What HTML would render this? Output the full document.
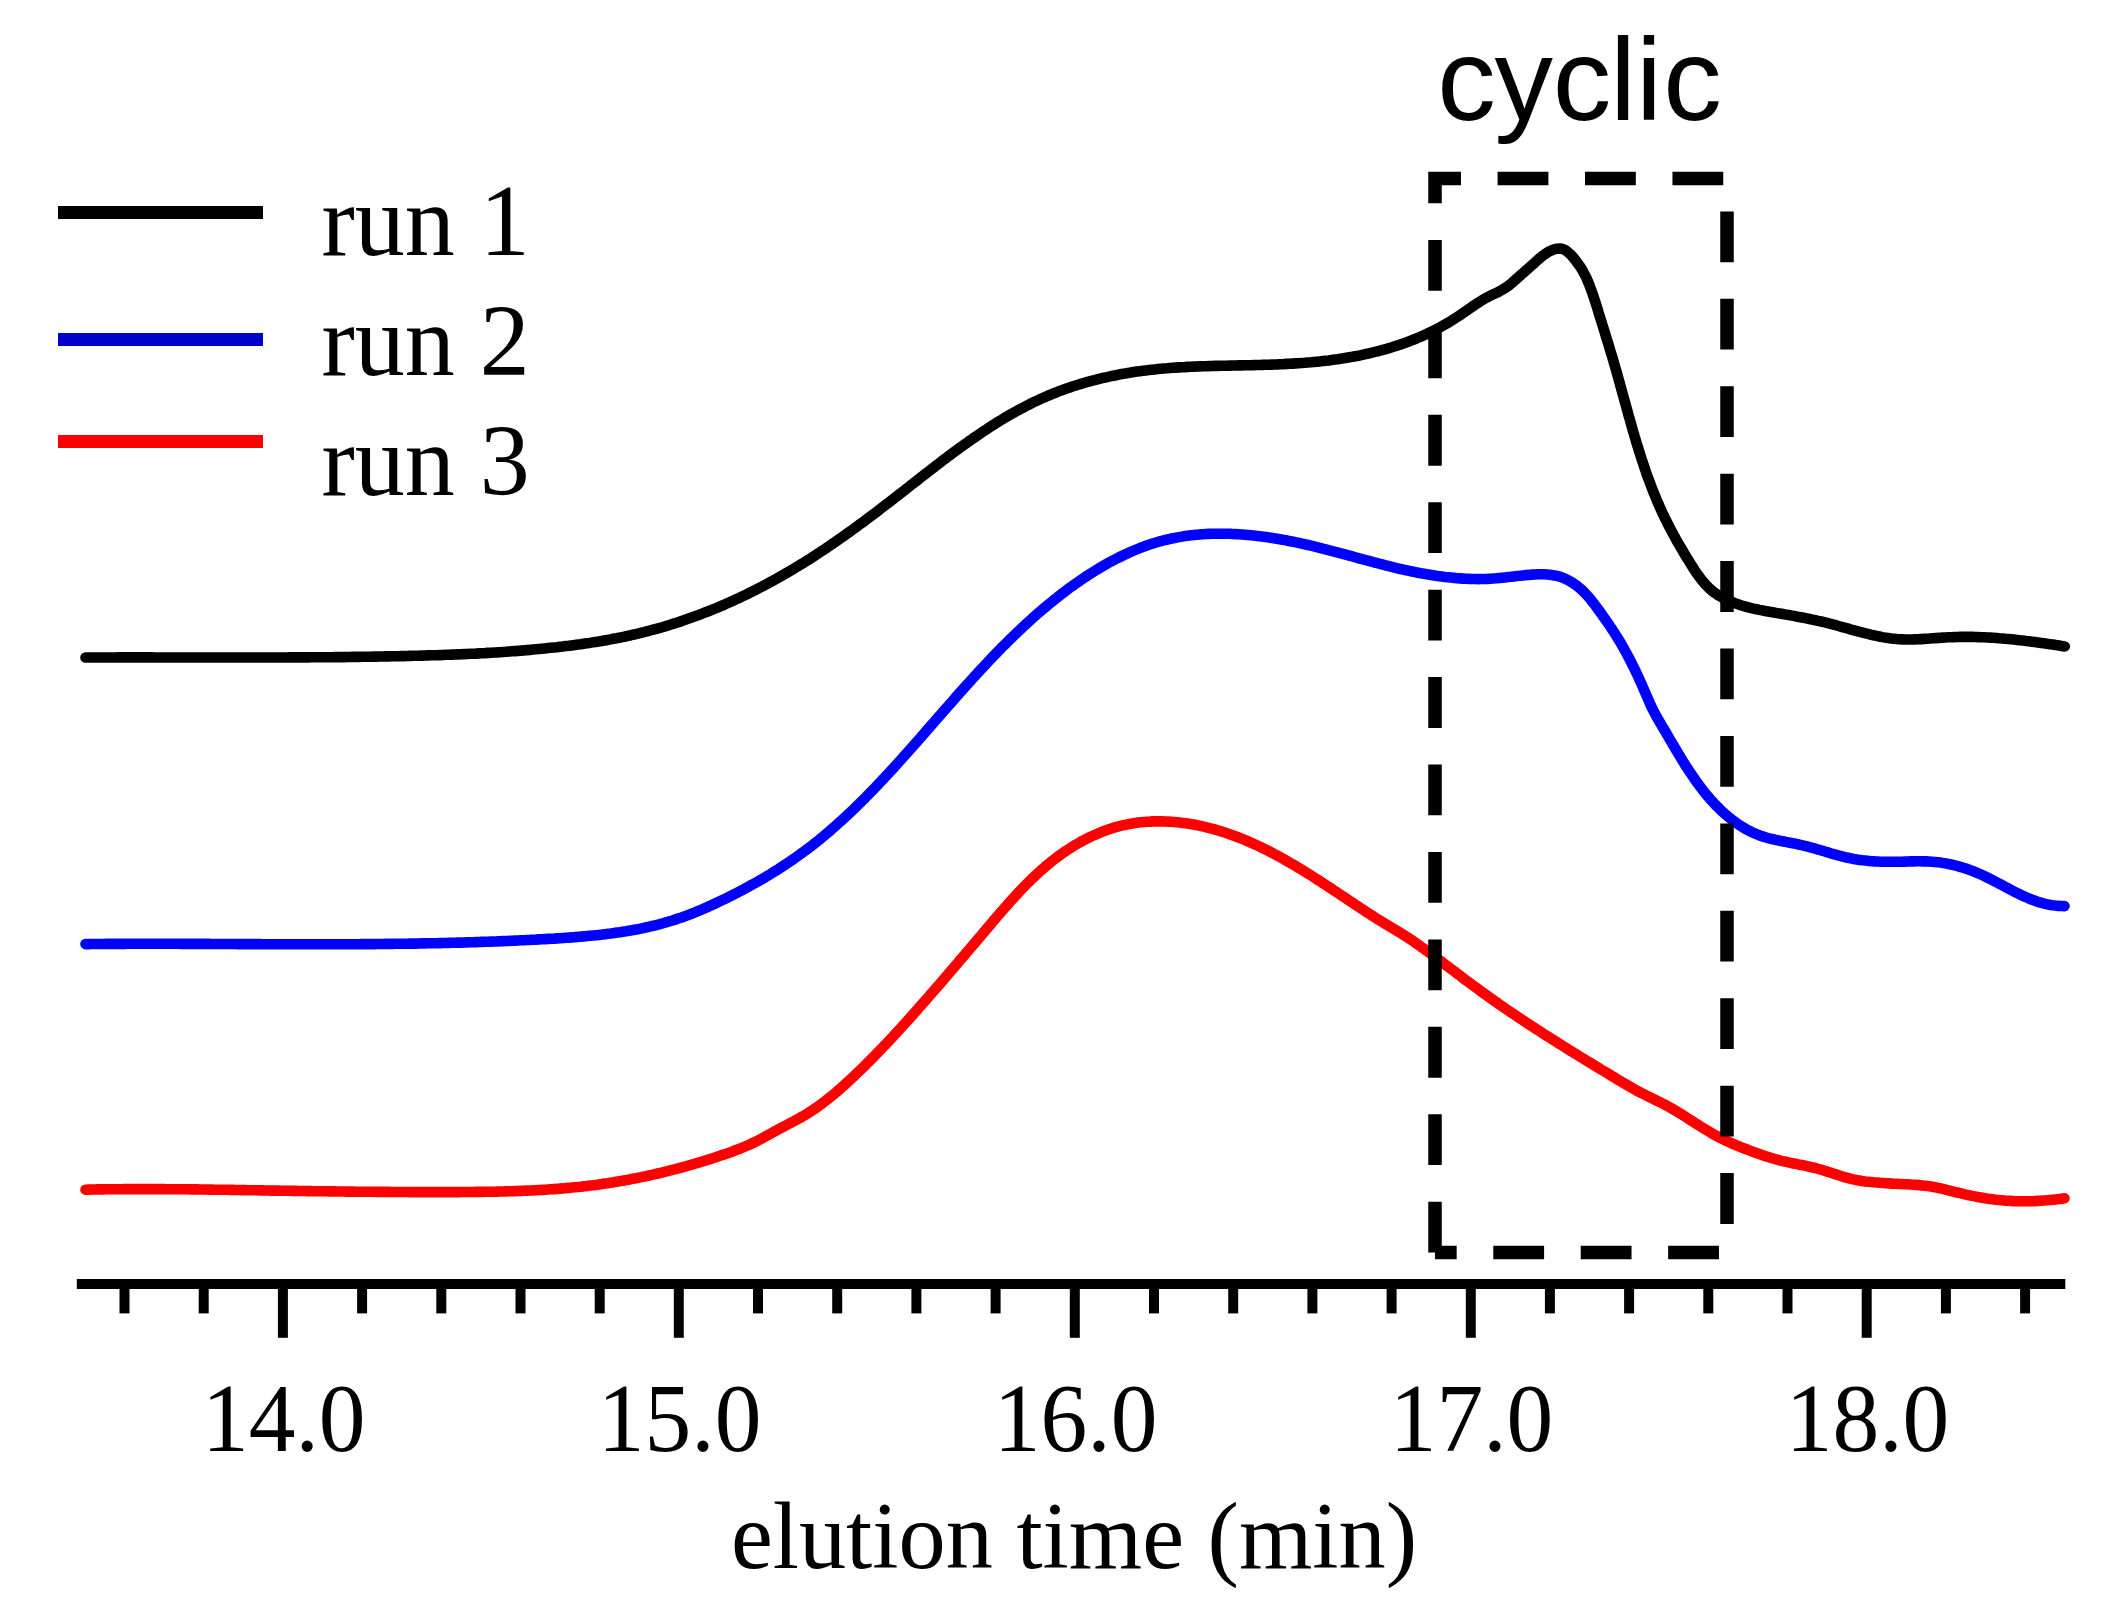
<!DOCTYPE html>
<html><head><meta charset="utf-8"><title>elution</title>
<style>
html,body{margin:0;padding:0;background:#fff;}
body{width:2113px;height:1619px;overflow:hidden;}
svg{display:block;}
.serif{font-family:"Liberation Serif","Times New Roman",serif;}
.sans{font-family:"Liberation Sans",Arial,sans-serif;}
</style></head><body>
<svg width="2113" height="1619" viewBox="0 0 2113 1619">
<rect width="2113" height="1619" fill="#fff"/>
<g fill="none" stroke-width="10.6" stroke-linecap="round" stroke-linejoin="round">
<path stroke="#ff0000" d="M85.5,1189.7 L88.5,1189.6 L91.5,1189.5 L94.5,1189.5 L97.5,1189.4 L100.5,1189.4 L103.5,1189.4 L106.5,1189.3 L109.5,1189.3 L112.5,1189.2 L115.5,1189.2 L118.5,1189.2 L121.5,1189.2 L124.5,1189.1 L127.6,1189.1 L130.6,1189.1 L133.6,1189.1 L136.6,1189.1 L139.6,1189.1 L142.6,1189.1 L145.6,1189.1 L148.6,1189.1 L151.6,1189.1 L154.6,1189.1 L157.6,1189.1 L160.6,1189.1 L163.6,1189.1 L166.6,1189.2 L169.6,1189.2 L172.6,1189.2 L175.6,1189.2 L178.6,1189.2 L181.6,1189.3 L184.6,1189.3 L187.6,1189.3 L190.6,1189.4 L193.7,1189.4 L196.7,1189.4 L199.7,1189.5 L202.7,1189.5 L205.7,1189.5 L208.7,1189.6 L211.7,1189.6 L214.7,1189.7 L217.7,1189.7 L220.7,1189.7 L223.7,1189.8 L226.7,1189.8 L229.7,1189.9 L232.7,1189.9 L235.7,1190.0 L238.7,1190.0 L241.7,1190.1 L244.7,1190.1 L247.7,1190.2 L250.7,1190.2 L253.7,1190.3 L256.7,1190.3 L259.7,1190.4 L262.7,1190.4 L265.7,1190.5 L268.8,1190.5 L271.8,1190.6 L274.8,1190.6 L277.8,1190.6 L280.8,1190.7 L283.8,1190.7 L286.8,1190.8 L289.8,1190.8 L292.8,1190.9 L295.8,1190.9 L298.8,1191.0 L301.8,1191.0 L304.8,1191.0 L307.8,1191.1 L310.8,1191.1 L313.8,1191.2 L316.8,1191.2 L319.8,1191.3 L322.8,1191.3 L325.8,1191.3 L328.8,1191.4 L331.8,1191.4 L334.8,1191.4 L337.8,1191.5 L340.8,1191.5 L343.8,1191.5 L346.8,1191.6 L349.8,1191.6 L352.8,1191.6 L355.8,1191.7 L358.8,1191.7 L361.8,1191.7 L364.8,1191.8 L367.8,1191.8 L370.8,1191.8 L373.8,1191.8 L376.8,1191.9 L379.8,1191.9 L382.8,1191.9 L385.8,1191.9 L388.8,1191.9 L391.8,1192.0 L394.8,1192.0 L397.8,1192.0 L400.8,1192.0 L403.8,1192.0 L406.9,1192.0 L409.9,1192.1 L412.9,1192.1 L415.9,1192.1 L418.9,1192.1 L421.9,1192.1 L424.9,1192.1 L427.9,1192.1 L430.9,1192.1 L433.9,1192.1 L436.9,1192.1 L439.9,1192.1 L442.9,1192.1 L445.9,1192.1 L448.9,1192.1 L451.9,1192.1 L454.9,1192.1 L457.9,1192.1 L460.9,1192.0 L463.9,1192.0 L467.0,1192.0 L470.0,1192.0 L473.0,1192.0 L476.0,1191.9 L479.0,1191.9 L482.0,1191.9 L485.0,1191.8 L488.0,1191.8 L491.0,1191.7 L494.0,1191.7 L497.0,1191.6 L500.0,1191.5 L503.0,1191.5 L506.0,1191.4 L509.0,1191.3 L512.0,1191.2 L515.0,1191.1 L518.0,1191.0 L521.0,1190.9 L524.0,1190.8 L527.0,1190.6 L530.0,1190.5 L533.0,1190.4 L536.0,1190.2 L539.0,1190.0 L542.0,1189.9 L545.0,1189.7 L548.0,1189.5 L551.0,1189.3 L554.0,1189.1 L557.0,1188.9 L560.0,1188.6 L563.0,1188.4 L566.0,1188.1 L569.0,1187.9 L571.9,1187.6 L574.9,1187.3 L577.9,1187.0 L580.9,1186.7 L583.9,1186.3 L586.9,1186.0 L589.8,1185.6 L592.8,1185.3 L595.8,1184.9 L598.8,1184.5 L601.7,1184.1 L604.7,1183.6 L607.7,1183.2 L610.6,1182.7 L613.6,1182.3 L616.6,1181.8 L619.5,1181.3 L622.5,1180.8 L625.4,1180.2 L628.4,1179.7 L631.3,1179.1 L634.3,1178.6 L637.2,1178.0 L640.2,1177.4 L643.1,1176.8 L646.1,1176.2 L649.0,1175.5 L651.9,1174.9 L654.9,1174.2 L657.8,1173.5 L660.7,1172.8 L663.7,1172.1 L666.6,1171.4 L669.5,1170.7 L672.4,1169.9 L675.3,1169.2 L678.2,1168.4 L681.1,1167.6 L684.0,1166.8 L686.9,1166.0 L689.8,1165.2 L692.7,1164.4 L695.6,1163.5 L698.5,1162.6 L701.3,1161.8 L704.2,1160.9 L707.1,1160.0 L710.0,1159.1 L712.8,1158.2 L715.7,1157.2 L718.5,1156.3 L721.4,1155.3 L724.2,1154.4 L727.0,1153.4 L729.9,1152.4 L732.7,1151.4 L735.5,1150.3 L738.3,1149.3 L741.1,1148.2 L743.9,1147.0 L746.6,1145.9 L749.4,1144.7 L752.1,1143.4 L754.8,1142.1 L757.5,1140.8 L760.1,1139.4 L762.8,1138.0 L765.4,1136.5 L768.0,1135.1 L770.7,1133.6 L773.3,1132.2 L775.9,1130.7 L778.6,1129.3 L781.2,1127.9 L783.9,1126.5 L786.6,1125.1 L789.2,1123.7 L791.9,1122.3 L794.6,1120.9 L797.2,1119.4 L799.8,1118.0 L802.5,1116.5 L805.0,1115.0 L807.6,1113.4 L810.1,1111.8 L812.6,1110.2 L815.1,1108.5 L817.6,1106.8 L820.0,1105.0 L822.4,1103.3 L824.8,1101.4 L827.2,1099.6 L829.5,1097.7 L831.9,1095.8 L834.2,1093.9 L836.5,1092.0 L838.7,1090.0 L841.0,1088.0 L843.3,1086.0 L845.5,1084.0 L847.7,1082.0 L849.9,1079.9 L852.1,1077.9 L854.3,1075.8 L856.5,1073.7 L858.7,1071.7 L860.8,1069.6 L863.0,1067.5 L865.1,1065.3 L867.2,1063.2 L869.4,1061.1 L871.5,1059.0 L873.6,1056.8 L875.7,1054.7 L877.8,1052.5 L879.9,1050.4 L882.0,1048.2 L884.0,1046.0 L886.1,1043.9 L888.2,1041.7 L890.2,1039.5 L892.3,1037.3 L894.3,1035.1 L896.3,1032.9 L898.4,1030.7 L900.4,1028.5 L902.4,1026.2 L904.4,1024.0 L906.5,1021.8 L908.5,1019.6 L910.5,1017.3 L912.5,1015.1 L914.5,1012.8 L916.5,1010.6 L918.4,1008.3 L920.4,1006.1 L922.4,1003.8 L924.4,1001.6 L926.4,999.3 L928.3,997.1 L930.3,994.8 L932.3,992.5 L934.3,990.3 L936.2,988.0 L938.2,985.7 L940.2,983.4 L942.1,981.2 L944.1,978.9 L946.1,976.6 L948.0,974.3 L950.0,972.0 L951.9,969.8 L953.9,967.5 L955.8,965.2 L957.8,962.9 L959.7,960.6 L961.7,958.3 L963.6,956.0 L965.6,953.7 L967.5,951.4 L969.5,949.2 L971.4,946.9 L973.4,944.6 L975.3,942.3 L977.3,940.0 L979.2,937.7 L981.2,935.4 L983.1,933.1 L985.1,930.8 L987.0,928.5 L988.9,926.2 L990.9,923.9 L992.8,921.6 L994.8,919.3 L996.7,917.0 L998.7,914.8 L1000.6,912.5 L1002.6,910.2 L1004.6,908.0 L1006.6,905.7 L1008.5,903.5 L1010.5,901.2 L1012.5,899.0 L1014.6,896.8 L1016.6,894.6 L1018.6,892.4 L1020.7,890.2 L1022.7,888.0 L1024.8,885.9 L1026.9,883.8 L1029.0,881.7 L1031.2,879.6 L1033.3,877.5 L1035.5,875.5 L1037.7,873.4 L1039.9,871.4 L1042.1,869.4 L1044.4,867.5 L1046.6,865.5 L1049.0,863.6 L1051.3,861.7 L1053.6,859.9 L1056.0,858.1 L1058.4,856.3 L1060.8,854.5 L1063.3,852.7 L1065.8,851.0 L1068.3,849.4 L1070.9,847.7 L1073.5,846.1 L1076.1,844.5 L1078.7,843.0 L1081.4,841.5 L1084.0,840.1 L1086.7,838.7 L1089.5,837.3 L1092.2,836.0 L1095.0,834.8 L1097.8,833.6 L1100.6,832.4 L1103.4,831.3 L1106.2,830.3 L1109.1,829.3 L1112.0,828.3 L1114.8,827.4 L1117.7,826.6 L1120.6,825.9 L1123.5,825.2 L1126.5,824.6 L1129.4,824.0 L1132.3,823.5 L1135.3,823.0 L1138.3,822.6 L1141.2,822.3 L1144.2,822.0 L1147.2,821.7 L1150.1,821.6 L1153.1,821.4 L1156.1,821.4 L1159.1,821.3 L1162.1,821.4 L1165.1,821.5 L1168.1,821.6 L1171.1,821.8 L1174.0,822.0 L1177.0,822.2 L1180.0,822.6 L1183.0,822.9 L1186.0,823.3 L1188.9,823.8 L1191.9,824.3 L1194.9,824.8 L1197.8,825.4 L1200.8,826.0 L1203.7,826.6 L1206.6,827.3 L1209.6,828.1 L1212.5,828.8 L1215.4,829.6 L1218.2,830.5 L1221.1,831.4 L1224.0,832.3 L1226.8,833.2 L1229.7,834.2 L1232.5,835.2 L1235.3,836.2 L1238.1,837.3 L1240.9,838.4 L1243.7,839.5 L1246.4,840.7 L1249.2,841.9 L1251.9,843.1 L1254.7,844.3 L1257.4,845.5 L1260.1,846.8 L1262.8,848.1 L1265.5,849.5 L1268.2,850.8 L1270.9,852.2 L1273.5,853.6 L1276.2,855.0 L1278.8,856.4 L1281.5,857.9 L1284.1,859.3 L1286.7,860.8 L1289.3,862.3 L1291.9,863.9 L1294.5,865.4 L1297.1,866.9 L1299.7,868.5 L1302.3,870.1 L1304.9,871.6 L1307.4,873.2 L1310.0,874.8 L1312.5,876.4 L1315.1,878.1 L1317.6,879.7 L1320.2,881.3 L1322.7,883.0 L1325.2,884.6 L1327.7,886.3 L1330.3,887.9 L1332.8,889.6 L1335.3,891.3 L1337.8,892.9 L1340.3,894.6 L1342.8,896.3 L1345.3,897.9 L1347.8,899.6 L1350.3,901.3 L1352.8,902.9 L1355.2,904.6 L1357.7,906.2 L1360.2,907.9 L1362.7,909.5 L1365.2,911.2 L1367.7,912.8 L1370.2,914.4 L1372.7,916.0 L1375.2,917.6 L1377.7,919.2 L1380.3,920.8 L1382.8,922.3 L1385.4,923.9 L1388.0,925.4 L1390.6,927.0 L1393.1,928.5 L1395.7,930.1 L1398.3,931.6 L1400.9,933.2 L1403.4,934.8 L1406.0,936.4 L1408.5,938.0 L1411.0,939.7 L1413.5,941.4 L1415.9,943.1 L1418.4,944.8 L1420.8,946.6 L1423.3,948.3 L1425.7,950.1 L1428.1,951.8 L1430.5,953.6 L1433.0,955.4 L1435.4,957.2 L1437.8,959.0 L1440.2,960.8 L1442.6,962.6 L1445.0,964.4 L1447.4,966.2 L1449.8,968.0 L1452.2,969.8 L1454.6,971.6 L1457.0,973.4 L1459.4,975.2 L1461.8,977.1 L1464.2,978.9 L1466.6,980.7 L1469.0,982.4 L1471.4,984.2 L1473.8,986.0 L1476.3,987.8 L1478.7,989.6 L1481.1,991.4 L1483.5,993.1 L1486.0,994.9 L1488.4,996.6 L1490.9,998.4 L1493.3,1000.1 L1495.8,1001.8 L1498.2,1003.6 L1500.7,1005.3 L1503.2,1007.0 L1505.6,1008.7 L1508.1,1010.4 L1510.6,1012.1 L1513.1,1013.8 L1515.6,1015.4 L1518.1,1017.1 L1520.6,1018.8 L1523.1,1020.4 L1525.6,1022.1 L1528.1,1023.7 L1530.6,1025.4 L1533.1,1027.0 L1535.6,1028.7 L1538.2,1030.3 L1540.7,1031.9 L1543.2,1033.6 L1545.7,1035.2 L1548.3,1036.8 L1550.8,1038.4 L1553.3,1040.0 L1555.9,1041.6 L1558.4,1043.2 L1561.0,1044.8 L1563.5,1046.4 L1566.1,1048.0 L1568.6,1049.6 L1571.2,1051.2 L1573.7,1052.7 L1576.3,1054.3 L1578.8,1055.9 L1581.4,1057.5 L1584.0,1059.0 L1586.5,1060.6 L1589.1,1062.2 L1591.7,1063.7 L1594.2,1065.3 L1596.8,1066.9 L1599.4,1068.4 L1601.9,1070.0 L1604.5,1071.5 L1607.1,1073.1 L1609.6,1074.6 L1612.2,1076.2 L1614.8,1077.7 L1617.3,1079.3 L1619.9,1080.8 L1622.5,1082.4 L1625.1,1083.9 L1627.7,1085.4 L1630.3,1086.9 L1632.9,1088.4 L1635.5,1089.8 L1638.1,1091.3 L1640.8,1092.7 L1643.5,1094.0 L1646.2,1095.4 L1648.8,1096.7 L1651.5,1098.0 L1654.2,1099.4 L1656.9,1100.7 L1659.6,1102.0 L1662.3,1103.4 L1665.0,1104.8 L1667.6,1106.2 L1670.2,1107.6 L1672.8,1109.1 L1675.4,1110.6 L1678.0,1112.2 L1680.6,1113.8 L1683.1,1115.3 L1685.6,1116.9 L1688.2,1118.6 L1690.7,1120.2 L1693.2,1121.8 L1695.8,1123.4 L1698.3,1125.0 L1700.8,1126.6 L1703.4,1128.2 L1706.0,1129.8 L1708.5,1131.3 L1711.1,1132.8 L1713.7,1134.3 L1716.3,1135.8 L1719.0,1137.2 L1721.6,1138.5 L1724.3,1139.9 L1727.0,1141.2 L1729.8,1142.4 L1732.5,1143.7 L1735.3,1144.8 L1738.0,1146.0 L1740.8,1147.1 L1743.6,1148.2 L1746.4,1149.3 L1749.3,1150.4 L1752.1,1151.4 L1754.9,1152.4 L1757.8,1153.4 L1760.6,1154.4 L1763.4,1155.4 L1766.3,1156.4 L1769.1,1157.3 L1772.0,1158.2 L1774.9,1159.0 L1777.7,1159.8 L1780.6,1160.6 L1783.6,1161.3 L1786.5,1161.9 L1789.4,1162.6 L1792.3,1163.2 L1795.3,1163.8 L1798.2,1164.4 L1801.2,1164.9 L1804.1,1165.5 L1807.0,1166.2 L1810.0,1166.8 L1812.9,1167.5 L1815.8,1168.2 L1818.7,1169.0 L1821.6,1169.8 L1824.5,1170.7 L1827.3,1171.6 L1830.2,1172.5 L1833.1,1173.5 L1835.9,1174.4 L1838.8,1175.3 L1841.6,1176.2 L1844.5,1177.1 L1847.4,1177.9 L1850.3,1178.7 L1853.2,1179.4 L1856.1,1180.0 L1859.1,1180.5 L1862.0,1181.0 L1865.0,1181.4 L1868.0,1181.7 L1871.0,1182.0 L1874.0,1182.3 L1877.0,1182.5 L1880.0,1182.8 L1883.0,1183.0 L1886.0,1183.2 L1889.0,1183.4 L1892.0,1183.6 L1895.0,1183.7 L1898.0,1183.9 L1901.1,1184.0 L1904.1,1184.2 L1907.1,1184.3 L1910.1,1184.5 L1913.1,1184.7 L1916.1,1184.9 L1919.1,1185.1 L1922.0,1185.4 L1925.0,1185.7 L1928.0,1186.1 L1930.9,1186.5 L1933.9,1187.0 L1936.8,1187.6 L1939.8,1188.2 L1942.7,1188.9 L1945.6,1189.6 L1948.5,1190.3 L1951.4,1191.1 L1954.3,1191.8 L1957.2,1192.5 L1960.2,1193.2 L1963.1,1193.9 L1966.0,1194.6 L1969.0,1195.2 L1971.9,1195.9 L1974.8,1196.4 L1977.8,1197.0 L1980.8,1197.5 L1983.7,1198.0 L1986.7,1198.5 L1989.6,1198.9 L1992.6,1199.3 L1995.6,1199.7 L1998.6,1200.0 L2001.6,1200.3 L2004.6,1200.6 L2007.6,1200.8 L2010.6,1200.9 L2013.6,1201.1 L2016.6,1201.2 L2019.6,1201.2 L2022.6,1201.3 L2025.6,1201.3 L2028.6,1201.2 L2031.6,1201.2 L2034.6,1201.1 L2037.6,1200.9 L2040.6,1200.8 L2043.6,1200.5 L2046.6,1200.3 L2049.6,1200.0 L2052.6,1199.7 L2055.6,1199.4 L2058.5,1199.1 L2061.5,1198.7 L2064.5,1198.2"/>
<path stroke="#0000ff" d="M85.5,944.1 L88.5,944.1 L91.5,944.0 L94.5,944.0 L97.5,944.0 L100.5,944.0 L103.5,944.0 L106.5,943.9 L109.5,943.9 L112.5,943.9 L115.5,943.9 L118.5,943.9 L121.5,943.9 L124.5,943.9 L127.5,943.8 L130.5,943.8 L133.5,943.8 L136.5,943.8 L139.5,943.8 L142.6,943.8 L145.6,943.8 L148.6,943.8 L151.6,943.8 L154.6,943.8 L157.6,943.8 L160.6,943.8 L163.6,943.8 L166.6,943.8 L169.6,943.8 L172.6,943.8 L175.6,943.8 L178.6,943.8 L181.6,943.9 L184.6,943.9 L187.6,943.9 L190.6,943.9 L193.6,943.9 L196.6,943.9 L199.6,943.9 L202.6,943.9 L205.7,943.9 L208.7,943.9 L211.7,944.0 L214.7,944.0 L217.7,944.0 L220.7,944.0 L223.7,944.0 L226.7,944.0 L229.7,944.0 L232.7,944.0 L235.7,944.0 L238.7,944.1 L241.7,944.1 L244.7,944.1 L247.7,944.1 L250.7,944.1 L253.7,944.1 L256.8,944.1 L259.8,944.1 L262.8,944.2 L265.8,944.2 L268.8,944.2 L271.8,944.2 L274.8,944.2 L277.8,944.2 L280.8,944.2 L283.8,944.2 L286.8,944.2 L289.8,944.2 L292.8,944.2 L295.8,944.2 L298.8,944.3 L301.8,944.3 L304.8,944.3 L307.8,944.3 L310.8,944.3 L313.9,944.3 L316.9,944.3 L319.9,944.3 L322.9,944.3 L325.9,944.3 L328.9,944.3 L331.9,944.3 L334.9,944.2 L337.9,944.2 L340.9,944.2 L343.9,944.2 L346.9,944.2 L349.9,944.2 L352.9,944.2 L355.9,944.2 L358.9,944.2 L361.9,944.1 L364.9,944.1 L367.9,944.1 L370.9,944.1 L373.9,944.1 L376.9,944.0 L379.9,944.0 L382.9,944.0 L385.9,943.9 L388.9,943.9 L391.9,943.9 L394.9,943.8 L397.9,943.8 L400.9,943.8 L403.9,943.7 L406.9,943.7 L409.9,943.6 L412.9,943.6 L415.9,943.6 L418.9,943.5 L421.9,943.4 L424.9,943.4 L427.9,943.3 L430.9,943.3 L433.9,943.2 L436.9,943.2 L439.9,943.1 L442.9,943.0 L445.9,943.0 L448.9,942.9 L451.9,942.8 L454.9,942.7 L457.9,942.6 L460.9,942.6 L463.9,942.5 L466.9,942.4 L469.9,942.3 L472.9,942.2 L475.9,942.1 L478.9,942.0 L481.9,941.9 L485.0,941.8 L488.0,941.7 L491.0,941.6 L494.0,941.5 L497.0,941.4 L500.0,941.2 L503.0,941.1 L506.0,941.0 L509.0,940.9 L512.0,940.7 L515.0,940.6 L518.0,940.5 L521.0,940.3 L524.0,940.2 L527.0,940.0 L530.0,939.9 L533.0,939.7 L536.0,939.6 L539.0,939.4 L542.1,939.3 L545.1,939.1 L548.1,938.9 L551.1,938.7 L554.1,938.6 L557.1,938.4 L560.1,938.2 L563.1,938.0 L566.1,937.8 L569.1,937.6 L572.1,937.4 L575.1,937.1 L578.1,936.9 L581.1,936.6 L584.1,936.4 L587.1,936.1 L590.1,935.8 L593.1,935.5 L596.1,935.2 L599.1,934.9 L602.1,934.6 L605.1,934.2 L608.1,933.8 L611.0,933.5 L614.0,933.1 L617.0,932.6 L619.9,932.2 L622.9,931.7 L625.8,931.3 L628.8,930.8 L631.7,930.3 L634.7,929.7 L637.6,929.2 L640.6,928.6 L643.5,928.0 L646.4,927.3 L649.3,926.7 L652.2,926.0 L655.1,925.3 L658.0,924.6 L660.9,923.8 L663.8,923.0 L666.7,922.2 L669.5,921.3 L672.4,920.5 L675.2,919.6 L678.1,918.6 L680.9,917.7 L683.7,916.7 L686.6,915.6 L689.4,914.6 L692.2,913.5 L695.0,912.4 L697.8,911.2 L700.5,910.1 L703.3,908.9 L706.1,907.7 L708.8,906.4 L711.6,905.2 L714.3,903.9 L717.1,902.6 L719.8,901.3 L722.5,900.0 L725.3,898.7 L728.0,897.4 L730.7,896.0 L733.4,894.6 L736.1,893.3 L738.7,891.9 L741.4,890.5 L744.1,889.1 L746.7,887.6 L749.4,886.2 L752.0,884.7 L754.6,883.3 L757.3,881.8 L759.9,880.3 L762.5,878.8 L765.1,877.3 L767.7,875.7 L770.2,874.2 L772.8,872.6 L775.3,871.0 L777.9,869.4 L780.4,867.8 L782.9,866.2 L785.4,864.5 L787.9,862.9 L790.4,861.2 L792.9,859.5 L795.3,857.8 L797.8,856.0 L800.2,854.3 L802.6,852.5 L805.0,850.8 L807.4,849.0 L809.8,847.2 L812.2,845.3 L814.5,843.5 L816.9,841.6 L819.2,839.8 L821.5,837.9 L823.8,836.0 L826.1,834.0 L828.4,832.1 L830.7,830.2 L832.9,828.2 L835.2,826.2 L837.4,824.2 L839.6,822.2 L841.9,820.2 L844.1,818.2 L846.3,816.2 L848.4,814.1 L850.6,812.1 L852.8,810.0 L854.9,807.9 L857.1,805.8 L859.2,803.7 L861.4,801.6 L863.5,799.5 L865.6,797.4 L867.7,795.2 L869.8,793.1 L871.9,790.9 L874.0,788.8 L876.1,786.6 L878.2,784.4 L880.3,782.2 L882.3,780.0 L884.4,777.8 L886.4,775.6 L888.5,773.4 L890.5,771.2 L892.6,769.0 L894.6,766.7 L896.6,764.5 L898.6,762.3 L900.7,760.0 L902.7,757.8 L904.7,755.5 L906.7,753.3 L908.7,751.0 L910.7,748.8 L912.7,746.5 L914.7,744.3 L916.7,742.0 L918.7,739.7 L920.7,737.5 L922.6,735.2 L924.6,732.9 L926.6,730.6 L928.6,728.4 L930.6,726.1 L932.6,723.8 L934.5,721.6 L936.5,719.3 L938.5,717.0 L940.5,714.7 L942.5,712.5 L944.4,710.2 L946.4,707.9 L948.4,705.7 L950.4,703.4 L952.4,701.2 L954.4,698.9 L956.4,696.6 L958.4,694.4 L960.4,692.1 L962.4,689.9 L964.4,687.6 L966.4,685.4 L968.4,683.2 L970.4,680.9 L972.4,678.7 L974.4,676.5 L976.5,674.3 L978.5,672.1 L980.5,669.9 L982.6,667.7 L984.6,665.5 L986.7,663.3 L988.7,661.1 L990.8,658.9 L992.9,656.7 L995.0,654.6 L997.0,652.4 L999.1,650.3 L1001.2,648.1 L1003.3,646.0 L1005.5,643.9 L1007.6,641.8 L1009.7,639.7 L1011.9,637.6 L1014.0,635.5 L1016.2,633.4 L1018.3,631.3 L1020.5,629.3 L1022.7,627.2 L1024.9,625.2 L1027.1,623.1 L1029.3,621.1 L1031.5,619.1 L1033.8,617.1 L1036.0,615.1 L1038.3,613.1 L1040.5,611.2 L1042.8,609.2 L1045.1,607.3 L1047.4,605.4 L1049.7,603.5 L1052.1,601.6 L1054.4,599.7 L1056.8,597.8 L1059.1,595.9 L1061.5,594.1 L1063.9,592.3 L1066.3,590.4 L1068.7,588.6 L1071.2,586.8 L1073.6,585.1 L1076.1,583.3 L1078.6,581.6 L1081.1,579.9 L1083.6,578.2 L1086.1,576.5 L1088.6,574.8 L1091.2,573.2 L1093.7,571.6 L1096.3,570.0 L1098.9,568.4 L1101.5,566.9 L1104.1,565.4 L1106.7,563.9 L1109.3,562.4 L1112.0,561.0 L1114.7,559.6 L1117.3,558.2 L1120.0,556.9 L1122.7,555.6 L1125.4,554.3 L1128.1,553.1 L1130.9,551.8 L1133.6,550.7 L1136.4,549.5 L1139.1,548.4 L1141.9,547.3 L1144.7,546.3 L1147.5,545.3 L1150.3,544.3 L1153.2,543.4 L1156.0,542.5 L1158.9,541.7 L1161.7,540.9 L1164.6,540.2 L1167.5,539.5 L1170.4,538.8 L1173.3,538.2 L1176.2,537.6 L1179.1,537.1 L1182.0,536.6 L1185.0,536.1 L1187.9,535.7 L1190.9,535.3 L1193.8,535.0 L1196.8,534.7 L1199.8,534.4 L1202.8,534.2 L1205.8,534.0 L1208.8,533.9 L1211.8,533.8 L1214.8,533.7 L1217.8,533.7 L1220.8,533.7 L1223.8,533.7 L1226.8,533.7 L1229.9,533.8 L1232.9,534.0 L1235.9,534.1 L1238.9,534.3 L1242.0,534.5 L1245.0,534.7 L1248.0,535.0 L1251.1,535.3 L1254.1,535.6 L1257.1,535.9 L1260.2,536.3 L1263.2,536.7 L1266.2,537.1 L1269.2,537.5 L1272.2,538.0 L1275.3,538.5 L1278.3,539.0 L1281.3,539.5 L1284.3,540.1 L1287.3,540.6 L1290.2,541.2 L1293.2,541.8 L1296.2,542.4 L1299.2,543.0 L1302.1,543.7 L1305.1,544.3 L1308.0,545.0 L1311.0,545.7 L1313.9,546.4 L1316.8,547.1 L1319.7,547.8 L1322.7,548.6 L1325.6,549.3 L1328.5,550.1 L1331.4,550.8 L1334.3,551.6 L1337.1,552.3 L1340.0,553.1 L1342.9,553.9 L1345.8,554.7 L1348.7,555.5 L1351.5,556.2 L1354.4,557.0 L1357.3,557.8 L1360.1,558.6 L1363.0,559.4 L1365.9,560.2 L1368.8,560.9 L1371.6,561.7 L1374.5,562.5 L1377.4,563.2 L1380.3,564.0 L1383.1,564.7 L1386.0,565.5 L1388.9,566.2 L1391.8,566.9 L1394.7,567.6 L1397.6,568.3 L1400.5,569.0 L1403.4,569.6 L1406.3,570.3 L1409.2,570.9 L1412.1,571.5 L1415.1,572.1 L1418.0,572.7 L1421.0,573.3 L1423.9,573.8 L1426.9,574.3 L1429.9,574.8 L1432.8,575.3 L1435.8,575.8 L1438.8,576.2 L1441.9,576.6 L1444.9,577.0 L1447.9,577.3 L1450.9,577.6 L1454.0,577.9 L1457.0,578.2 L1460.0,578.4 L1463.1,578.6 L1466.1,578.8 L1469.1,578.9 L1472.2,579.0 L1475.2,579.0 L1478.2,579.1 L1481.2,579.0 L1484.2,579.0 L1487.2,578.9 L1490.2,578.7 L1493.2,578.5 L1496.2,578.3 L1499.2,578.0 L1502.1,577.7 L1505.1,577.4 L1508.0,577.1 L1511.0,576.8 L1513.9,576.4 L1516.9,576.1 L1519.9,575.8 L1522.9,575.4 L1525.9,575.1 L1528.9,574.9 L1531.9,574.6 L1534.9,574.5 L1538.0,574.3 L1541.0,574.3 L1544.0,574.3 L1547.0,574.5 L1550.0,574.8 L1552.9,575.2 L1555.9,575.7 L1558.7,576.4 L1561.6,577.3 L1564.3,578.4 L1567.1,579.7 L1569.7,581.1 L1572.3,582.6 L1574.8,584.3 L1577.3,586.1 L1579.6,588.0 L1581.9,590.0 L1584.0,592.1 L1586.1,594.3 L1588.1,596.5 L1590.1,598.8 L1592.0,601.2 L1593.8,603.5 L1595.6,605.9 L1597.4,608.4 L1599.2,610.8 L1601.0,613.2 L1602.7,615.7 L1604.4,618.1 L1606.2,620.6 L1607.9,623.0 L1609.6,625.5 L1611.2,628.0 L1612.9,630.5 L1614.5,633.0 L1616.1,635.5 L1617.7,638.1 L1619.3,640.6 L1620.8,643.2 L1622.3,645.8 L1623.8,648.4 L1625.2,651.0 L1626.7,653.7 L1628.1,656.3 L1629.5,659.0 L1630.9,661.7 L1632.2,664.4 L1633.6,667.0 L1634.9,669.8 L1636.2,672.5 L1637.5,675.2 L1638.7,677.9 L1640.0,680.7 L1641.2,683.4 L1642.4,686.1 L1643.6,688.9 L1644.8,691.7 L1646.0,694.4 L1647.2,697.2 L1648.4,699.9 L1649.6,702.7 L1650.8,705.4 L1652.1,708.1 L1653.4,710.7 L1654.8,713.4 L1656.2,716.0 L1657.7,718.6 L1659.2,721.2 L1660.7,723.7 L1662.2,726.3 L1663.7,728.9 L1665.3,731.5 L1666.8,734.1 L1668.3,736.7 L1669.8,739.3 L1671.3,741.8 L1672.8,744.4 L1674.4,747.0 L1675.9,749.6 L1677.5,752.2 L1679.0,754.8 L1680.6,757.4 L1682.1,759.9 L1683.7,762.5 L1685.3,765.1 L1686.9,767.6 L1688.6,770.1 L1690.2,772.6 L1691.9,775.1 L1693.6,777.6 L1695.3,780.1 L1697.1,782.5 L1698.8,784.9 L1700.6,787.3 L1702.5,789.7 L1704.3,792.1 L1706.2,794.4 L1708.2,796.7 L1710.1,799.0 L1712.1,801.2 L1714.2,803.4 L1716.2,805.6 L1718.4,807.7 L1720.5,809.9 L1722.7,811.9 L1725.0,813.9 L1727.2,815.9 L1729.6,817.8 L1731.9,819.7 L1734.3,821.5 L1736.8,823.3 L1739.2,825.0 L1741.8,826.6 L1744.3,828.1 L1746.9,829.6 L1749.6,831.0 L1752.2,832.3 L1754.9,833.5 L1757.7,834.6 L1760.5,835.7 L1763.3,836.6 L1766.2,837.5 L1769.1,838.3 L1772.0,839.0 L1774.9,839.7 L1777.9,840.3 L1780.9,841.0 L1783.8,841.5 L1786.8,842.1 L1789.8,842.7 L1792.8,843.3 L1795.8,843.8 L1798.8,844.5 L1801.7,845.1 L1804.7,845.8 L1807.6,846.5 L1810.5,847.3 L1813.4,848.1 L1816.3,849.0 L1819.2,849.8 L1822.1,850.7 L1824.9,851.5 L1827.8,852.4 L1830.7,853.3 L1833.5,854.1 L1836.4,854.9 L1839.3,855.7 L1842.2,856.5 L1845.1,857.2 L1848.0,857.8 L1850.9,858.4 L1853.8,859.0 L1856.8,859.5 L1859.7,859.9 L1862.7,860.3 L1865.7,860.6 L1868.7,860.9 L1871.7,861.2 L1874.7,861.4 L1877.7,861.5 L1880.7,861.7 L1883.7,861.8 L1886.7,861.8 L1889.7,861.8 L1892.7,861.8 L1895.8,861.8 L1898.8,861.7 L1901.8,861.7 L1904.8,861.6 L1907.8,861.5 L1910.9,861.4 L1913.9,861.4 L1916.9,861.3 L1919.9,861.3 L1922.9,861.4 L1925.9,861.4 L1928.9,861.5 L1931.9,861.7 L1934.8,862.0 L1937.8,862.3 L1940.8,862.6 L1943.7,863.1 L1946.7,863.6 L1949.6,864.2 L1952.5,864.8 L1955.5,865.5 L1958.4,866.3 L1961.2,867.1 L1964.1,868.0 L1967.0,868.9 L1969.8,870.0 L1972.6,871.0 L1975.4,872.1 L1978.2,873.3 L1981.0,874.5 L1983.7,875.8 L1986.4,877.1 L1989.1,878.4 L1991.8,879.8 L1994.5,881.2 L1997.2,882.6 L1999.9,884.0 L2002.5,885.4 L2005.2,886.9 L2007.9,888.3 L2010.5,889.7 L2013.2,891.1 L2015.9,892.5 L2018.6,893.8 L2021.3,895.1 L2024.0,896.3 L2026.7,897.5 L2029.4,898.7 L2032.2,899.8 L2035.0,900.8 L2037.8,901.8 L2040.6,902.6 L2043.5,903.4 L2046.4,904.1 L2049.3,904.7 L2052.3,905.2 L2055.3,905.6 L2058.3,905.9 L2061.4,906.0 L2064.5,906.1"/>
<path stroke="#000" d="M85.5,657.5 L88.5,657.5 L91.5,657.5 L94.5,657.5 L97.5,657.5 L100.5,657.5 L103.5,657.5 L106.5,657.5 L109.5,657.5 L112.5,657.5 L115.5,657.5 L118.5,657.4 L121.5,657.4 L124.6,657.4 L127.6,657.4 L130.6,657.4 L133.6,657.4 L136.6,657.4 L139.6,657.4 L142.6,657.4 L145.6,657.4 L148.6,657.4 L151.6,657.4 L154.6,657.5 L157.6,657.5 L160.6,657.5 L163.6,657.5 L166.6,657.5 L169.6,657.5 L172.6,657.5 L175.6,657.5 L178.6,657.5 L181.6,657.5 L184.6,657.5 L187.6,657.5 L190.6,657.5 L193.7,657.5 L196.7,657.5 L199.7,657.5 L202.7,657.5 L205.7,657.5 L208.7,657.5 L211.7,657.5 L214.7,657.5 L217.7,657.5 L220.7,657.5 L223.7,657.5 L226.7,657.5 L229.7,657.5 L232.7,657.5 L235.7,657.5 L238.7,657.5 L241.7,657.5 L244.7,657.5 L247.7,657.5 L250.7,657.5 L253.7,657.5 L256.8,657.5 L259.8,657.5 L262.8,657.5 L265.8,657.5 L268.8,657.5 L271.8,657.5 L274.8,657.5 L277.8,657.5 L280.8,657.5 L283.8,657.5 L286.8,657.5 L289.8,657.4 L292.8,657.4 L295.8,657.4 L298.8,657.4 L301.8,657.4 L304.8,657.4 L307.8,657.4 L310.8,657.3 L313.8,657.3 L316.8,657.3 L319.9,657.3 L322.9,657.3 L325.9,657.2 L328.9,657.2 L331.9,657.2 L334.9,657.1 L337.9,657.1 L340.9,657.1 L343.9,657.1 L346.9,657.0 L349.9,657.0 L352.9,656.9 L355.9,656.9 L358.9,656.9 L361.9,656.8 L364.9,656.8 L367.9,656.7 L370.9,656.7 L373.9,656.6 L376.9,656.6 L379.9,656.5 L382.9,656.5 L385.9,656.4 L388.9,656.4 L392.0,656.3 L395.0,656.2 L398.0,656.2 L401.0,656.1 L404.0,656.1 L407.0,656.0 L410.0,655.9 L413.0,655.8 L416.0,655.8 L419.0,655.7 L422.0,655.6 L425.0,655.5 L428.0,655.4 L431.0,655.3 L434.0,655.2 L437.0,655.2 L440.0,655.1 L443.0,655.0 L446.0,654.8 L449.0,654.7 L452.0,654.6 L455.0,654.5 L458.0,654.4 L461.0,654.3 L464.0,654.1 L467.0,654.0 L470.0,653.8 L473.0,653.7 L476.0,653.6 L479.0,653.4 L482.0,653.2 L485.0,653.1 L488.0,652.9 L491.0,652.7 L494.0,652.5 L497.0,652.4 L500.0,652.2 L503.0,652.0 L506.0,651.8 L509.0,651.5 L512.0,651.3 L515.0,651.1 L518.0,650.9 L521.0,650.6 L524.0,650.4 L526.9,650.1 L529.9,649.9 L532.9,649.6 L535.9,649.3 L538.9,649.0 L541.9,648.7 L544.9,648.4 L547.9,648.1 L550.9,647.8 L553.9,647.5 L556.9,647.2 L559.8,646.8 L562.8,646.5 L565.8,646.1 L568.8,645.8 L571.8,645.4 L574.8,645.0 L577.8,644.6 L580.7,644.2 L583.7,643.7 L586.7,643.3 L589.7,642.9 L592.6,642.4 L595.6,641.9 L598.6,641.5 L601.5,641.0 L604.5,640.4 L607.5,639.9 L610.4,639.4 L613.4,638.8 L616.3,638.3 L619.3,637.7 L622.2,637.1 L625.2,636.5 L628.1,635.8 L631.0,635.2 L634.0,634.5 L636.9,633.9 L639.8,633.2 L642.7,632.5 L645.6,631.7 L648.5,631.0 L651.4,630.2 L654.3,629.4 L657.2,628.6 L660.1,627.8 L663.0,627.0 L665.9,626.1 L668.8,625.2 L671.6,624.3 L674.5,623.4 L677.4,622.5 L680.2,621.6 L683.1,620.6 L685.9,619.6 L688.7,618.6 L691.6,617.6 L694.4,616.6 L697.2,615.6 L700.0,614.5 L702.8,613.4 L705.6,612.3 L708.4,611.2 L711.2,610.1 L714.0,609.0 L716.8,607.8 L719.6,606.6 L722.3,605.5 L725.1,604.3 L727.9,603.0 L730.6,601.8 L733.3,600.6 L736.1,599.3 L738.8,598.1 L741.5,596.8 L744.2,595.5 L747.0,594.2 L749.7,592.8 L752.4,591.5 L755.0,590.1 L757.7,588.8 L760.4,587.4 L763.1,586.0 L765.7,584.6 L768.4,583.2 L771.0,581.7 L773.7,580.3 L776.3,578.9 L778.9,577.4 L781.5,575.9 L784.1,574.4 L786.7,572.9 L789.3,571.4 L791.9,569.9 L794.5,568.3 L797.0,566.8 L799.6,565.2 L802.2,563.7 L804.7,562.1 L807.2,560.5 L809.8,558.9 L812.3,557.3 L814.8,555.6 L817.3,554.0 L819.8,552.4 L822.3,550.7 L824.8,549.1 L827.3,547.4 L829.7,545.7 L832.2,544.0 L834.7,542.3 L837.1,540.6 L839.6,538.9 L842.0,537.2 L844.5,535.5 L846.9,533.7 L849.4,532.0 L851.8,530.2 L854.2,528.5 L856.6,526.7 L859.0,524.9 L861.5,523.2 L863.9,521.4 L866.3,519.6 L868.7,517.8 L871.1,516.0 L873.5,514.2 L875.9,512.4 L878.3,510.6 L880.7,508.7 L883.0,506.9 L885.4,505.1 L887.8,503.2 L890.2,501.4 L892.6,499.6 L895.0,497.7 L897.3,495.9 L899.7,494.0 L902.1,492.2 L904.5,490.3 L906.9,488.4 L909.2,486.6 L911.6,484.7 L914.0,482.8 L916.4,481.0 L918.8,479.1 L921.2,477.2 L923.5,475.4 L925.9,473.5 L928.3,471.7 L930.7,469.8 L933.1,468.0 L935.5,466.1 L937.9,464.3 L940.3,462.4 L942.7,460.6 L945.1,458.8 L947.5,456.9 L950.0,455.1 L952.4,453.3 L954.8,451.5 L957.2,449.7 L959.7,447.9 L962.1,446.2 L964.6,444.4 L967.0,442.7 L969.5,440.9 L971.9,439.2 L974.4,437.5 L976.9,435.8 L979.4,434.1 L981.9,432.4 L984.4,430.7 L986.9,429.1 L989.4,427.4 L991.9,425.8 L994.4,424.2 L997.0,422.6 L999.5,421.0 L1002.1,419.5 L1004.6,417.9 L1007.2,416.4 L1009.8,414.9 L1012.4,413.4 L1015.0,412.0 L1017.6,410.5 L1020.2,409.1 L1022.9,407.7 L1025.5,406.3 L1028.2,405.0 L1030.8,403.6 L1033.5,402.3 L1036.2,401.0 L1038.9,399.8 L1041.6,398.5 L1044.3,397.3 L1047.1,396.1 L1049.8,395.0 L1052.6,393.8 L1055.4,392.7 L1058.2,391.6 L1061.0,390.6 L1063.8,389.5 L1066.6,388.5 L1069.4,387.6 L1072.3,386.6 L1075.1,385.7 L1078.0,384.8 L1080.9,383.9 L1083.8,383.0 L1086.7,382.2 L1089.6,381.4 L1092.5,380.6 L1095.4,379.9 L1098.3,379.1 L1101.2,378.4 L1104.2,377.7 L1107.1,377.1 L1110.1,376.4 L1113.0,375.8 L1116.0,375.2 L1118.9,374.6 L1121.9,374.1 L1124.9,373.6 L1127.9,373.0 L1130.8,372.6 L1133.8,372.1 L1136.8,371.6 L1139.8,371.2 L1142.8,370.8 L1145.8,370.4 L1148.8,370.1 L1151.8,369.7 L1154.8,369.4 L1157.7,369.1 L1160.7,368.8 L1163.7,368.5 L1166.7,368.3 L1169.7,368.0 L1172.7,367.8 L1175.7,367.6 L1178.7,367.4 L1181.7,367.2 L1184.7,367.1 L1187.7,366.9 L1190.7,366.8 L1193.7,366.6 L1196.7,366.5 L1199.7,366.4 L1202.7,366.3 L1205.7,366.2 L1208.7,366.1 L1211.7,366.0 L1214.7,365.9 L1217.7,365.9 L1220.7,365.8 L1223.7,365.7 L1226.7,365.7 L1229.7,365.6 L1232.7,365.5 L1235.7,365.5 L1238.7,365.4 L1241.7,365.4 L1244.7,365.3 L1247.7,365.2 L1250.7,365.2 L1253.7,365.1 L1256.7,365.0 L1259.7,365.0 L1262.7,364.9 L1265.7,364.8 L1268.7,364.7 L1271.7,364.6 L1274.7,364.5 L1277.7,364.4 L1280.7,364.2 L1283.7,364.1 L1286.7,363.9 L1289.7,363.8 L1292.7,363.6 L1295.7,363.4 L1298.7,363.2 L1301.7,363.0 L1304.7,362.8 L1307.7,362.5 L1310.7,362.3 L1313.7,362.0 L1316.7,361.7 L1319.7,361.4 L1322.7,361.1 L1325.7,360.7 L1328.7,360.4 L1331.7,360.0 L1334.6,359.6 L1337.6,359.2 L1340.6,358.7 L1343.6,358.3 L1346.5,357.8 L1349.5,357.3 L1352.5,356.8 L1355.4,356.2 L1358.4,355.7 L1361.3,355.1 L1364.3,354.4 L1367.2,353.8 L1370.1,353.1 L1373.0,352.4 L1376.0,351.7 L1378.9,351.0 L1381.8,350.2 L1384.7,349.4 L1387.5,348.6 L1390.4,347.7 L1393.3,346.8 L1396.1,345.9 L1399.0,345.0 L1401.8,344.0 L1404.7,343.0 L1407.5,342.0 L1410.3,340.9 L1413.1,339.8 L1415.9,338.7 L1418.6,337.5 L1421.4,336.3 L1424.2,335.1 L1426.9,333.9 L1429.6,332.6 L1432.3,331.3 L1435.0,329.9 L1437.7,328.5 L1440.3,327.1 L1442.9,325.7 L1445.6,324.2 L1448.2,322.7 L1450.7,321.1 L1453.3,319.5 L1455.8,317.9 L1458.4,316.3 L1460.8,314.6 L1463.3,312.9 L1465.8,311.2 L1468.3,309.4 L1470.7,307.7 L1473.2,306.0 L1475.7,304.3 L1478.2,302.7 L1480.7,301.1 L1483.3,299.5 L1485.9,298.0 L1488.6,296.6 L1491.2,295.3 L1494.0,294.0 L1496.7,292.7 L1499.3,291.4 L1502.0,289.9 L1504.6,288.4 L1507.1,286.7 L1509.5,284.9 L1511.8,283.0 L1514.1,281.0 L1516.3,279.0 L1518.6,277.0 L1520.8,275.0 L1523.0,273.1 L1525.2,271.1 L1527.5,269.2 L1529.7,267.2 L1531.9,265.2 L1534.2,263.2 L1536.4,261.2 L1538.8,259.1 L1541.1,257.1 L1543.5,255.2 L1546.0,253.4 L1548.6,251.8 L1551.3,250.5 L1554.1,249.4 L1557.1,248.7 L1559.9,248.5 L1562.7,249.0 L1565.2,250.1 L1567.6,251.8 L1569.8,253.8 L1572.0,256.0 L1574.0,258.4 L1575.9,260.8 L1577.7,263.3 L1579.5,265.7 L1581.1,268.2 L1582.7,270.8 L1584.1,273.4 L1585.5,276.0 L1586.8,278.7 L1587.9,281.5 L1589.1,284.2 L1590.1,287.1 L1591.2,289.9 L1592.2,292.7 L1593.2,295.6 L1594.1,298.4 L1595.1,301.3 L1596.0,304.1 L1596.9,307.0 L1597.8,309.8 L1598.6,312.7 L1599.5,315.6 L1600.4,318.4 L1601.3,321.3 L1602.2,324.2 L1603.1,327.0 L1604.0,329.9 L1604.9,332.8 L1605.7,335.6 L1606.6,338.5 L1607.5,341.4 L1608.4,344.2 L1609.3,347.1 L1610.1,350.0 L1611.0,352.8 L1611.9,355.7 L1612.7,358.6 L1613.6,361.5 L1614.4,364.4 L1615.2,367.2 L1616.1,370.1 L1616.9,373.0 L1617.7,375.9 L1618.5,378.8 L1619.3,381.7 L1620.1,384.6 L1620.9,387.5 L1621.7,390.4 L1622.5,393.3 L1623.3,396.2 L1624.1,399.1 L1624.9,402.0 L1625.7,404.9 L1626.5,407.8 L1627.3,410.7 L1628.1,413.6 L1628.9,416.5 L1629.8,419.4 L1630.6,422.3 L1631.4,425.2 L1632.2,428.1 L1633.0,431.0 L1633.9,433.8 L1634.7,436.7 L1635.6,439.6 L1636.4,442.5 L1637.3,445.4 L1638.2,448.2 L1639.1,451.1 L1640.0,454.0 L1640.9,456.8 L1641.8,459.7 L1642.8,462.5 L1643.7,465.4 L1644.7,468.2 L1645.6,471.0 L1646.6,473.9 L1647.6,476.7 L1648.7,479.5 L1649.7,482.3 L1650.8,485.1 L1651.8,487.9 L1652.9,490.7 L1654.0,493.5 L1655.2,496.2 L1656.3,499.0 L1657.5,501.8 L1658.7,504.5 L1659.9,507.3 L1661.1,510.0 L1662.3,512.7 L1663.6,515.4 L1664.9,518.1 L1666.3,520.8 L1667.6,523.5 L1669.0,526.2 L1670.4,528.9 L1671.8,531.5 L1673.2,534.2 L1674.7,536.8 L1676.1,539.4 L1677.6,542.1 L1679.1,544.7 L1680.6,547.3 L1682.2,549.9 L1683.7,552.5 L1685.2,555.1 L1686.8,557.7 L1688.4,560.2 L1690.0,562.8 L1691.6,565.3 L1693.2,567.9 L1694.8,570.4 L1696.5,572.9 L1698.2,575.3 L1700.0,577.7 L1701.8,580.1 L1703.7,582.4 L1705.7,584.6 L1707.8,586.8 L1709.9,588.9 L1712.2,590.8 L1714.5,592.7 L1717.0,594.4 L1719.6,596.0 L1722.2,597.5 L1724.9,598.9 L1727.7,600.2 L1730.5,601.4 L1733.2,602.5 L1736.1,603.6 L1738.9,604.6 L1741.8,605.5 L1744.6,606.3 L1747.5,607.1 L1750.4,607.9 L1753.3,608.6 L1756.3,609.2 L1759.2,609.9 L1762.1,610.4 L1765.1,611.0 L1768.1,611.5 L1771.0,612.1 L1774.0,612.6 L1776.9,613.1 L1779.9,613.6 L1782.9,614.1 L1785.8,614.6 L1788.8,615.1 L1791.7,615.6 L1794.7,616.1 L1797.6,616.7 L1800.6,617.2 L1803.5,617.8 L1806.4,618.4 L1809.4,619.0 L1812.3,619.6 L1815.2,620.2 L1818.1,620.9 L1821.1,621.5 L1824.0,622.2 L1826.9,622.9 L1829.8,623.7 L1832.7,624.4 L1835.6,625.2 L1838.5,626.0 L1841.4,626.8 L1844.4,627.6 L1847.3,628.4 L1850.2,629.3 L1853.1,630.1 L1856.0,630.9 L1858.9,631.7 L1861.8,632.4 L1864.7,633.2 L1867.7,633.9 L1870.6,634.6 L1873.5,635.3 L1876.4,635.9 L1879.4,636.5 L1882.3,637.1 L1885.2,637.6 L1888.2,638.1 L1891.2,638.5 L1894.1,638.8 L1897.1,639.1 L1900.1,639.3 L1903.0,639.4 L1906.0,639.5 L1909.0,639.5 L1912.0,639.5 L1915.0,639.4 L1918.0,639.3 L1921.0,639.1 L1924.1,638.9 L1927.1,638.7 L1930.1,638.5 L1933.1,638.3 L1936.1,638.1 L1939.2,637.9 L1942.2,637.6 L1945.2,637.5 L1948.2,637.3 L1951.2,637.2 L1954.3,637.1 L1957.3,637.0 L1960.3,636.9 L1963.3,636.9 L1966.3,636.9 L1969.3,636.9 L1972.3,636.9 L1975.3,637.0 L1978.3,637.1 L1981.3,637.2 L1984.3,637.3 L1987.3,637.5 L1990.3,637.6 L1993.3,637.8 L1996.2,638.0 L1999.2,638.3 L2002.2,638.5 L2005.2,638.8 L2008.2,639.0 L2011.2,639.3 L2014.2,639.6 L2017.1,639.9 L2020.1,640.3 L2023.1,640.6 L2026.1,641.0 L2029.1,641.3 L2032.0,641.7 L2035.0,642.1 L2038.0,642.5 L2041.0,642.9 L2044.0,643.3 L2046.9,643.8 L2049.9,644.2 L2052.9,644.6 L2055.9,645.1 L2058.9,645.5 L2061.8,646.0 L2064.8,646.4"/>
</g>
<path d="M1435,1252.5 V178.5 H1727 V1252.5 H1435" fill="none" stroke="#000" stroke-width="13.5" stroke-dasharray="50.8 36.63"/>
<g stroke="#000" stroke-width="10">
<line x1="76.8" y1="1284" x2="2065.3" y2="1284"/>
<line x1="124.5" y1="1284" x2="124.5" y2="1313.4"/><line x1="203.7" y1="1284" x2="203.7" y2="1313.4"/><line x1="282.9" y1="1284" x2="282.9" y2="1337.8"/><line x1="362.1" y1="1284" x2="362.1" y2="1313.4"/><line x1="441.3" y1="1284" x2="441.3" y2="1313.4"/><line x1="520.5" y1="1284" x2="520.5" y2="1313.4"/><line x1="599.7" y1="1284" x2="599.7" y2="1313.4"/><line x1="678.8" y1="1284" x2="678.8" y2="1337.8"/><line x1="758.0" y1="1284" x2="758.0" y2="1313.4"/><line x1="837.2" y1="1284" x2="837.2" y2="1313.4"/><line x1="916.4" y1="1284" x2="916.4" y2="1313.4"/><line x1="995.6" y1="1284" x2="995.6" y2="1313.4"/><line x1="1074.8" y1="1284" x2="1074.8" y2="1337.8"/><line x1="1154.0" y1="1284" x2="1154.0" y2="1313.4"/><line x1="1233.2" y1="1284" x2="1233.2" y2="1313.4"/><line x1="1312.4" y1="1284" x2="1312.4" y2="1313.4"/><line x1="1391.6" y1="1284" x2="1391.6" y2="1313.4"/><line x1="1470.8" y1="1284" x2="1470.8" y2="1337.8"/><line x1="1549.9" y1="1284" x2="1549.9" y2="1313.4"/><line x1="1629.1" y1="1284" x2="1629.1" y2="1313.4"/><line x1="1708.3" y1="1284" x2="1708.3" y2="1313.4"/><line x1="1787.5" y1="1284" x2="1787.5" y2="1313.4"/><line x1="1866.7" y1="1284" x2="1866.7" y2="1337.8"/><line x1="1945.9" y1="1284" x2="1945.9" y2="1313.4"/><line x1="2025.1" y1="1284" x2="2025.1" y2="1313.4"/>
</g>
<g stroke-width="13">
<line x1="58" y1="212.5" x2="263" y2="212.5" stroke="#000"/>
<line x1="58" y1="339.5" x2="263" y2="339.5" stroke="#0000cd"/>
<line x1="58" y1="441.5" x2="263" y2="441.5" stroke="#ff0000"/>
</g>
<g class="serif" font-size="100" fill="#000">
<text transform="translate(321.5,255.3) scale(1,1.025)">run 1</text>
<text transform="translate(321.5,375.3) scale(1,1.025)">run 2</text>
<text transform="translate(321.5,494.5) scale(1,1.025)">run 3</text>
</g>
<g class="serif" font-size="93.5" fill="#000" text-anchor="middle">
<text transform="translate(283.7,1451) scale(1,1.05)">14.0</text><text transform="translate(679.6,1451) scale(1,1.05)">15.0</text><text transform="translate(1075.6,1451) scale(1,1.05)">16.0</text><text transform="translate(1471.5,1451) scale(1,1.05)">17.0</text><text transform="translate(1867.5,1451) scale(1,1.05)">18.0</text>
<text x="1074" y="1567.5" font-size="94.3">elution time (min)</text>
</g>
<text class="sans" x="1437.2 1494.4 1552.7 1610 1636 1663.3" y="119.8" font-size="117" fill="#000">cyclic</text>
</svg>
</body></html>
